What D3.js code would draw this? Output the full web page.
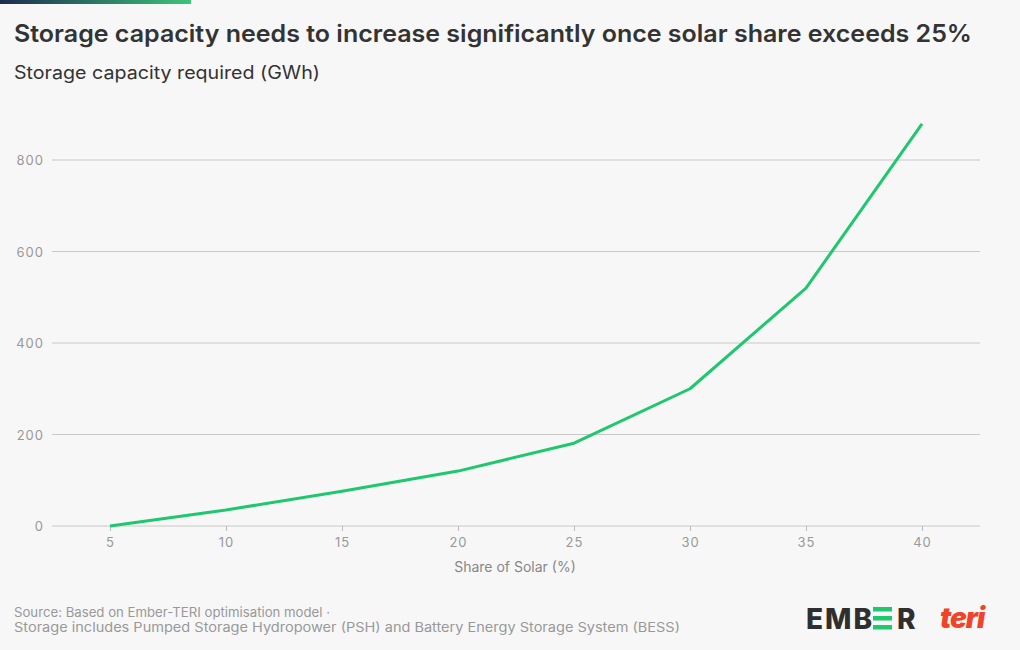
<!DOCTYPE html>
<html><head><meta charset="utf-8">
<script src="https://cdn.jsdelivr.net/npm/d3@7"></script>
<style>
body{margin:0;background:#f7f7f7;}
svg{display:block;font-family:Inter, "Noto Sans", sans-serif;}
</style></head>
<body>
<svg id="c" width="1020" height="650"></svg>
<script>
const solarShare = [5, 10, 15, 20, 25, 30, 35, 40];
const storageGWh = [0, 35, 76, 120, 181, 300, 520, 879];
const yTicks = [0, 200, 400, 600, 800];
const xTicks = [5, 10, 15, 20, 25, 30, 35, 40];
const title = "Storage capacity needs to increase significantly once solar share exceeds 25%";
const subtitle = "Storage capacity required (GWh)";
const xTitle = "Share of Solar (%)";
const sourceLines = ["Source: Based on Ember-TERI optimisation model \u00b7",
  "Storage includes Pumped Storage Hydropower (PSH) and Battery Energy Storage System (BESS)"];

const svg = d3.select("#c");
svg.append("rect").attr("width",1020).attr("height",650).attr("fill","#f7f7f7");

const defs = svg.append("defs");
const g1 = defs.append("linearGradient").attr("id","topg");
g1.append("stop").attr("offset","0%").attr("stop-color","#1d2b4f");
g1.append("stop").attr("offset","100%").attr("stop-color","#3cc47a");
svg.append("rect").attr("x",0).attr("y",0).attr("width",191).attr("height",4).attr("fill","url(#topg)");

svg.append("text").attr("x",14).attr("y",42).attr("font-size",24).attr("font-weight",600)
  .attr("fill","#333").attr("textLength",958).attr("lengthAdjust","spacingAndGlyphs").text(title);
svg.append("text").attr("x",14).attr("y",79).attr("font-size",18).attr("fill","#333")
  .attr("textLength",306).attr("lengthAdjust","spacingAndGlyphs").text(subtitle);

const x = d3.scaleLinear().domain([2.5, 42.5]).range([52, 980]);
const y = d3.scaleLinear().domain([0, 800]).range([526, 160]);

// gridlines
svg.append("g").selectAll("line").data(yTicks).join("line")
  .attr("x1",52).attr("x2",980).attr("y1",d=>y(d)).attr("y2",d=>y(d))
  .attr("stroke","#c8c8c8").attr("stroke-width",1);
svg.append("g").selectAll("text").data(yTicks).join("text")
  .attr("x",44).attr("y",d=>y(d)+5).attr("text-anchor","end")
  .attr("font-size",13).attr("fill","#999").attr("letter-spacing",1).text(d=>d);

// x axis
const xa = svg.append("g").attr("transform","translate(0,526)")
  .call(d3.axisBottom(x).tickValues(xTicks).tickSize(5).tickPadding(7).tickSizeOuter(0));
xa.select(".domain").remove();
xa.selectAll(".tick line").attr("stroke","#bbb");
xa.selectAll(".tick text").attr("font-size",13).attr("fill","#999").attr("letter-spacing",1).attr("font-family","Inter, sans-serif");

svg.append("text").attr("x",515).attr("y",572).attr("text-anchor","middle")
  .attr("font-size",14).attr("fill","#888").text(xTitle);

// line
const line = d3.line().x((d,i)=>x(solarShare[i])).y(d=>y(d));
svg.append("path").datum(storageGWh).attr("d",line).attr("fill","none")
  .attr("stroke","#1fc76f").attr("stroke-width",3).attr("stroke-linejoin","round");

// source
const srcLen = [316, 666];
svg.selectAll(".src").data(sourceLines).join("text").attr("class","src")
  .attr("x",14).attr("y",(d,i)=>617+i*15).attr("font-size",13).attr("fill","#999")
  .attr("textLength",(d,i)=>srcLen[i]).attr("lengthAdjust","spacingAndGlyphs").text(d=>d);

// Ember logo
const lg = svg.append("g");
lg.append("text").attr("x",806).attr("y",629).attr("font-size",28).attr("font-weight",800)
  .attr("fill","#2f2f2f").attr("letter-spacing",2).text("EMB");
const ex = 873;
[0,9,18].forEach(dy=>lg.append("rect").attr("x",ex).attr("y",607+dy).attr("width",19).attr("height",4.5).attr("fill","#1fc76f"));
lg.append("text").attr("x",897).attr("y",629).attr("font-size",28).attr("font-weight",800)
  .attr("fill","#2f2f2f").text("R");

// teri logo
svg.append("text").attr("x",940).attr("y",628).attr("font-size",28).attr("font-weight",900)
  .attr("font-style","italic").attr("fill","#f0432a").attr("letter-spacing",-1).text("teri");
</script>
</body></html>
